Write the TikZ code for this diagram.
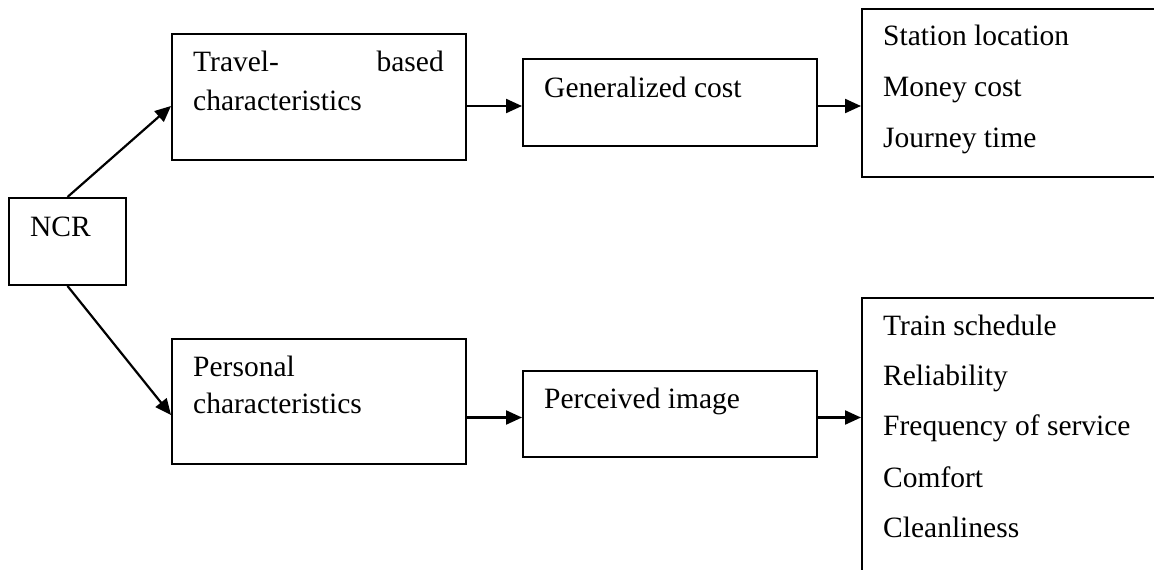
\documentclass[tikz,border=0pt]{standalone}
\usepackage{fontspec}
\setmainfont{Liberation Serif}
\usetikzlibrary{arrows.meta,calc}
\begin{document}
\begin{tikzpicture}[x=1pt,y=-1pt,
  box/.style={draw, line width=2pt, rectangle, inner sep=0pt},
  txt/.style={anchor=base west, inner sep=0pt, font=\fontsize{29.5}{35}\selectfont},
  arr/.style={line width=2.2pt, -{Triangle[length=16pt,width=14pt]}}]
\clip (0,0) rectangle (1154,570);
\fill[white] (0,0) rectangle (1154,570);
% boxes
\node[box, minimum width=117pt, minimum height=87pt] (ncr) at (67.5,241.5) {};
\node[box, minimum width=294pt, minimum height=126pt] (travel) at (319,97) {};
\node[box, minimum width=294pt, minimum height=87pt] (gen) at (670,102.5) {};
\node[box, minimum width=320pt, minimum height=168pt] (top) at (1022,93) {};
\node[box, minimum width=294pt, minimum height=125pt] (personal) at (319,401.5) {};
\node[box, minimum width=294pt, minimum height=86pt] (perc) at (670,414) {};
\node[box, minimum width=320pt, minimum height=300pt] (bottom) at (1022,448) {};
% texts
\node[txt] (tncr) at (30,236) {NCR};
\node[txt] (t1a) at (193,71) {Travel-};
\node[txt, anchor=base east] (t1b) at (444,71) {based};
\node[txt] (t1c) at (193,110) {characteristics};
\node[txt] (tgen) at (544,97) {Generalized cost};
\node[txt] (ta) at (883,45) {Station location};
\node[txt] (tb) at (883,96) {Money cost};
\node[txt] (tc) at (883,147) {Journey time};
\node[txt] (t2a) at (193,376) {Personal};
\node[txt] (t2b) at (193,413) {characteristics};
\node[txt] (tperc) at (544,408) {Perceived image};
\node[txt] (td) at (883,335) {Train schedule};
\node[txt] (te) at (883,385) {Reliability};
\node[txt] (tf) at (883,435) {Frequency of service};
\node[txt] (tg) at (883,487) {Comfort};
\node[txt] (th) at (883,537) {Cleanliness};
% connectors
\draw[arr] (ncr.north) -- ($(travel.west)+(0,9)$);
\draw[arr] ($(travel.east)+(0,9)$) -- ($(gen.west)+(0,3.5)$);
\draw[arr] ($(gen.east)+(0,3.5)$) -- ($(top.west)+(0,13)$);
\draw[arr] (ncr.south) -- ($(personal.west)+(0,13.5)$);
\draw[arr] ($(personal.east)+(0,16)$) -- ($(perc.west)+(0,3.5)$);
\draw[arr] ($(perc.east)+(0,3.5)$) -- ($(bottom.west)+(0,-30.5)$);
\end{tikzpicture}
\end{document}
